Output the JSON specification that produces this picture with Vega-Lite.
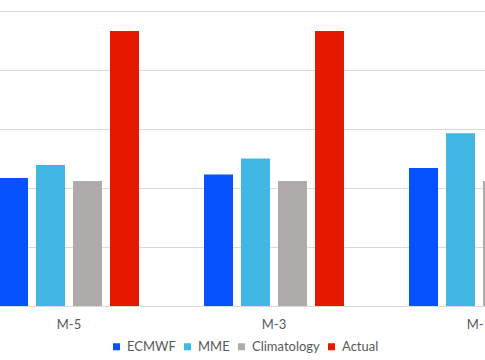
{
  "$schema": "https://vega.github.io/schema/vega-lite/v6.json",
  "width": 485,
  "height": 295,
  "autosize": {"type": "none"},
  "padding": {"top": 11, "left": 0, "right": 0, "bottom": 54},
  "background": "white",
  "config": {
    "view": {"stroke": null},
    "font": "Lato"
  },
  "data": {
    "values": [
      {"lead": "M-5", "series": "ECMWF", "value": 2.17},
      {"lead": "M-5", "series": "MME", "value": 2.39},
      {"lead": "M-5", "series": "Climatology", "value": 2.12},
      {"lead": "M-5", "series": "Actual", "value": 4.66},
      {"lead": "M-3", "series": "ECMWF", "value": 2.23},
      {"lead": "M-3", "series": "MME", "value": 2.5},
      {"lead": "M-3", "series": "Climatology", "value": 2.12},
      {"lead": "M-3", "series": "Actual", "value": 4.66},
      {"lead": "M-1", "series": "ECMWF", "value": 2.34},
      {"lead": "M-1", "series": "MME", "value": 2.93},
      {"lead": "M-1", "series": "Climatology", "value": 2.12},
      {"lead": "M-1", "series": "Actual", "value": 4.66}
    ]
  },
  "mark": {"type": "bar", "clip": false},
  "encoding": {
    "x": {
      "field": "lead",
      "type": "nominal",
      "sort": ["M-5", "M-3", "M-1"],
      "scale": {"range": [-33.5, 581.5], "paddingInner": 0, "paddingOuter": 0},
      "axis": {
        "title": null,
        "labelAngle": 0,
        "domain": false,
        "ticks": false,
        "labelFontSize": 13,
        "labelColor": "#595959",
        "labelPadding": 12,
        "labelFont": "Lato"
      }
    },
    "xOffset": {
      "field": "series",
      "type": "nominal",
      "sort": ["ECMWF", "MME", "Climatology", "Actual"],
      "scale": {"paddingInner": 0.216, "paddingOuter": 0.878}
    },
    "y": {
      "field": "value",
      "type": "quantitative",
      "scale": {"domain": [0, 5], "nice": false},
      "axis": {
        "title": null,
        "values": [0, 1, 2, 3, 4, 5],
        "labels": false,
        "ticks": false,
        "domain": false,
        "grid": true,
        "gridColor": "#d9d9d9",
        "gridWidth": 1
      }
    },
    "color": {
      "field": "series",
      "type": "nominal",
      "sort": ["ECMWF", "MME", "Climatology", "Actual"],
      "scale": {
        "domain": ["ECMWF", "MME", "Climatology", "Actual"],
        "range": ["#0652FF", "#41B8E4", "#AFABAB", "#E51900"]
      },
      "legend": {
        "title": null,
        "orient": "none",
        "direction": "horizontal",
        "legendX": 110,
        "legendY": 329,
        "symbolType": "square",
        "symbolSize": 49,
        "symbolStrokeWidth": 0,
        "labelFontSize": 13,
        "labelColor": "#595959",
        "labelFont": "Lato",
        "columnPadding": 5,
        "labelOffset": 4
      }
    }
  }
}
